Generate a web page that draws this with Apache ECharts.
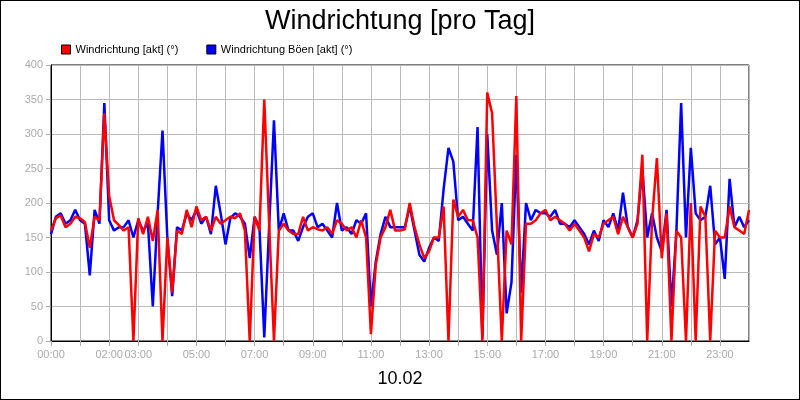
<!DOCTYPE html>
<html><head><meta charset="utf-8">
<script src="https://cdn.jsdelivr.net/npm/echarts@6/dist/echarts.min.js"></script>
<style>html,body{margin:0;padding:0;background:#fff}#c{width:800px;height:400px;box-sizing:border-box;border:1px solid #000}</style>
</head><body><div id="c"></div>
<script>
const title = "Windrichtung [pro Tag]";
const dateLabel = "10.02";
const seriesNames = ["Windrichtung [akt] (°)", "Windrichtung Böen [akt] (°)"];
const xTickHours = [0,2,3,5,7,9,11,13,15,17,19,21,23];
// 10-minute samples from 00:00 to 24:00
const windDir = [
160,178,182,165,170,180, 178,172,135,180,175,330, 210,175,168,160,165,0, 178,155,180,145,190,0,
150,70,160,155,190,165, 195,175,180,160,180,170, 175,180,178,185,160,0, 180,160,350,170,0,160,
170,160,155,155,180,160, 165,162,160,165,155,175, 170,160,165,150,175,150, 10,110,150,165,190,160,
160,162,200,165,140,120, 130,150,150,195,0,205, 180,190,175,175,150,0, 360,330,165,0,160,140,
355,0,170,170,175,185, 190,175,180,175,170,160, 170,160,150,130,155,150, 170,175,180,155,180,165,
150,170,270,0,175,265, 120,185,0,160,150,0, 200,0,195,180,0,160, 150,150,195,165,160,155, 190];
const gustDir = [
155,180,185,170,175,190, 175,170,95,190,170,345, 175,160,165,165,175,150, 175,160,170,50,185,305,
150,65,165,160,185,175, 190,170,180,155,225,185, 140,178,185,180,170,120, 180,165,5,165,320,160,
185,160,160,145,165,180, 185,165,170,160,150,200, 160,165,155,175,170,185, 50,115,155,180,165,165,
165,165,195,160,125,115, 135,150,145,220,280,260, 175,180,170,160,310,5, 300,160,125,200,40,85,
270,70,200,175,190,185, 185,180,190,170,170,165, 175,165,155,140,160,145, 175,165,185,160,215,165,
150,175,250,150,185,150, 130,190,50,155,345,150, 280,185,175,180,225,140, 150,90,235,165,180,165, 175];

const toPairs = a => a.map((v,i)=>[i/6, v]);
const pad = n => String(n).padStart(2,'0');
const chart = echarts.init(document.getElementById('c'));
chart.setOption({
  animation:false,
  title:{text:title,left:'center',top:2,textStyle:{fontFamily:'Liberation Sans',fontSize:27,fontWeight:'normal',color:'#000'}},
  legend:{left:55,top:38,itemWidth:9,itemHeight:9,itemGap:28,icon:'rect',
    textStyle:{fontFamily:'Liberation Sans',fontSize:11,color:'#000'},
    data:[{name:seriesNames[0],itemStyle:{color:'#ff0000',borderColor:'#000',borderWidth:1}},
          {name:seriesNames[1],itemStyle:{color:'#0000ff',borderColor:'#000',borderWidth:1}}]},
  grid:{left:50,right:50,top:64,bottom:58,show:true,borderColor:'#000',borderWidth:1},
  xAxis:{type:'value',min:0,max:24,interval:1,name:dateLabel,nameLocation:'middle',nameGap:29,
    nameTextStyle:{fontFamily:'Liberation Sans',fontSize:18,color:'#000'},
    axisLine:{lineStyle:{color:'#000'}},axisTick:{show:true,lineStyle:{color:'#aaa'}},
    splitLine:{show:true,lineStyle:{color:'#bbb'}},
    axisLabel:{fontFamily:'Liberation Sans',fontSize:11,color:'#aaa',showMaxLabel:false,
      formatter:v=>xTickHours.includes(v)?pad(v)+':00':''}},
  yAxis:{type:'value',min:0,max:400,interval:50,
    axisLine:{show:true,lineStyle:{color:'#000'}},axisTick:{show:true,lineStyle:{color:'#aaa'}},
    splitLine:{show:true,lineStyle:{color:'#bbb'}},
    axisLabel:{fontFamily:'Liberation Sans',fontSize:11,color:'#aaa'}},
  series:[
    {name:seriesNames[1],type:'line',data:toPairs(gustDir),showSymbol:false,color:'#0000ff',lineStyle:{width:2.5,color:'#0000ff'},z:2},
    {name:seriesNames[0],type:'line',data:toPairs(windDir),showSymbol:false,color:'#ff0000',lineStyle:{width:2.5,color:'#ff0000'},z:3}
  ]
});
</script></body></html>
